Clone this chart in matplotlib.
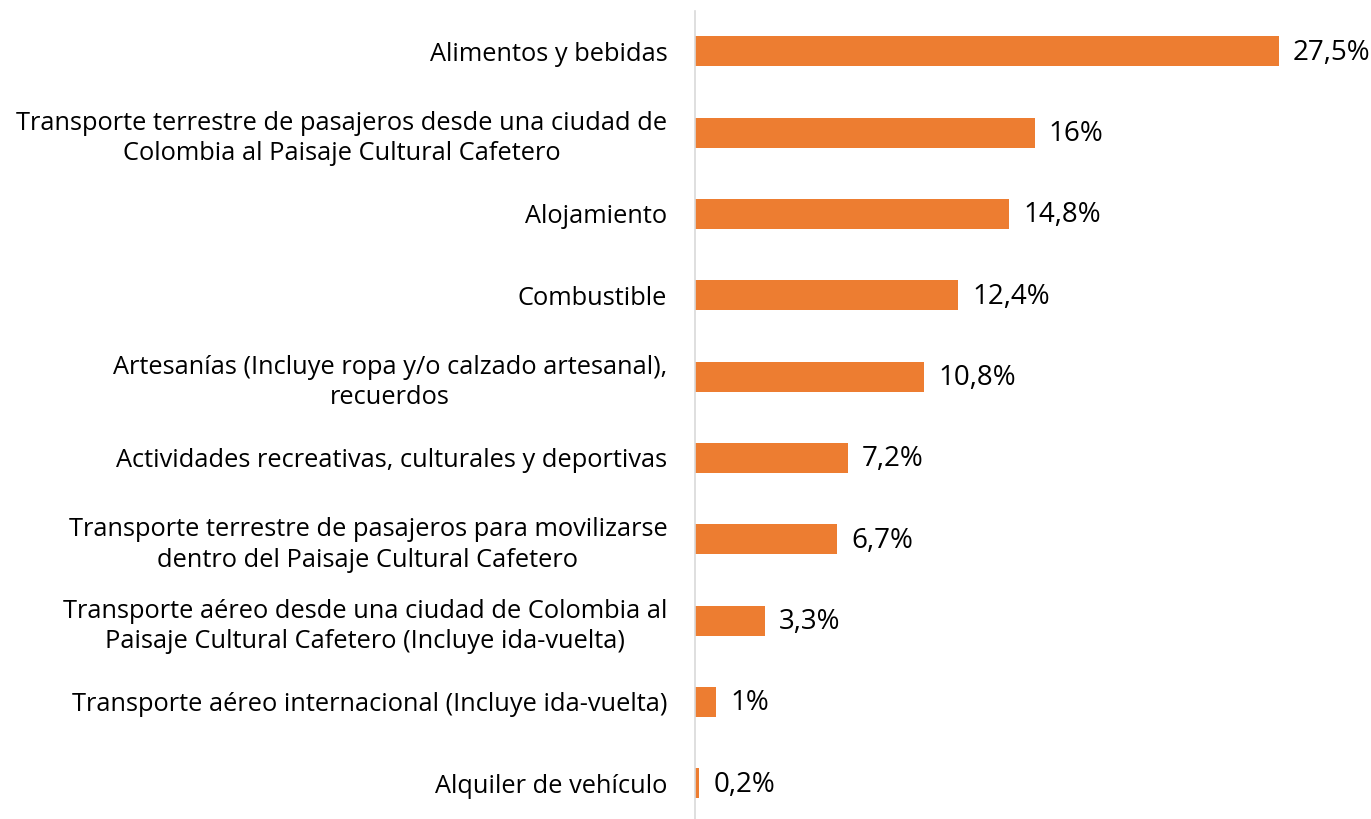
import matplotlib.pyplot as plt

# Data
categorias = [
    'Alimentos y bebidas',
    'Transporte terrestre de pasajeros desde una ciudad de\nColombia al Paisaje Cultural Cafetero',
    'Alojamiento',
    'Combustible',
    'Artesanías (Incluye ropa y/o calzado artesanal),\nrecuerdos',
    'Actividades recreativas, culturales y deportivas',
    'Transporte terrestre de pasajeros para movilizarse\ndentro del Paisaje Cultural Cafetero',
    'Transporte aéreo desde una ciudad de Colombia al\nPaisaje Cultural Cafetero (Incluye ida-vuelta)',
    'Transporte aéreo internacional (Incluye ida-vuelta)',
    'Alquiler de vehículo',
]
valores = [27.5, 16, 14.8, 12.4, 10.8, 7.2, 6.7, 3.3, 1, 0.2]
etiquetas = ['27,5%', '16%', '14,8%', '12,4%', '10,8%', '7,2%', '6,7%', '3,3%', '1%', '0,2%']

plt.rcParams['font.family'] = ['Open Sans', 'DejaVu Sans']

fig = plt.figure(figsize=(13.71, 8.19), dpi=100)
ax = fig.add_axes([0.507, -0.006, 0.483, 0.993])

pos = list(range(len(categorias)))
ax.barh(pos, valores, height=0.37, color='#ED7D31')
ax.set_ylim(len(categorias) - 0.5, -0.5)
ax.set_xlim(0, 31.2)

for p, v, t in zip(pos, valores, etiquetas):
    ax.annotate(t, (v, p), xytext=(10, -1), textcoords='offset points',
                va='center', ha='left', fontsize=20, color='#000000')

ax.set_yticks(pos)
ax.set_yticklabels(categorias, fontsize=18.3, ha='right', multialignment='center',
                   linespacing=1.3)
ax.tick_params(axis='y', length=0, pad=20)
ax.set_xticks([])

for s in ['top', 'right', 'bottom']:
    ax.spines[s].set_visible(False)
ax.spines['left'].set_color('#D9D9D9')
ax.spines['left'].set_linewidth(1.2)

plt.savefig('out.png', dpi=100)
